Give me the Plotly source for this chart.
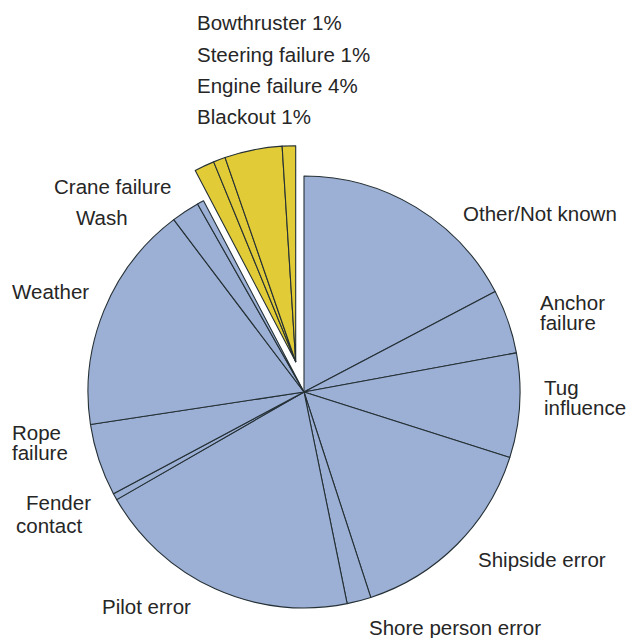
import plotly.graph_objects as go

# Slice data, clockwise from 12 o'clock
categories = ["Other/Not known", "Anchor failure", "Tug influence", "Shipside error",
              "Shore person error", "Pilot error", "Fender contact", "Rope failure",
              "Weather", "Wash", "Crane failure", "Bowthruster", "Steering failure",
              "Engine failure", "Blackout"]
shares = [17.3, 4.8, 7.8, 15.1, 1.8, 19.9, 0.5, 5.4, 17.1, 2.1, 0.5, 1.5, 0.9, 4.3, 1.0]
is_technical = [False] * 11 + [True] * 4

# Label texts (lines) and their placements (paper px, left x / cap-center y)
label_lines = [
    ("Bowthruster 1%", 195, 22.5),
    ("Steering failure 1%", 195, 54),
    ("Engine failure 4%", 195, 85.8),
    ("Blackout 1%", 195, 116),
    ("Crane failure", 52, 186),
    ("Wash", 74, 217.5),
    ("Weather", 10, 291),
    ("Other/Not known", 461, 214),
    ("Anchor", 538, 302.5),
    ("failure", 538, 322.8),
    ("Tug", 542, 387.5),
    ("influence", 542, 407.5),
    ("Shipside error", 476, 559),
    ("Shore person error", 367, 627.5),
    ("Pilot error", 100, 606),
    ("Rope", 10, 432.5),
    ("failure", 10, 452.5),
    ("Fender", 24, 502.5),
    ("contact", 14, 525.8),
]

W, H = 626, 638
BLUE = "#9cb0d6"
YELLOW = "#e1cb37"
OUTLINE = "#253035"
TEXT = "#262626"
CLEAR = "rgba(0,0,0,0)"

# pie geometry (px): main pie center, radius, and offset of the pulled-out technical group
cx, cy, R = 304, 392, 216
dx, dy = -8.3, -30.3


def domain_for(x0, y0):
    return dict(x=[(x0 - R) / W, (x0 + R) / W],
                y=[(H - y0 - R) / H, (H - y0 + R) / H])


base_colors = [CLEAR if t else BLUE for t in is_technical]
base_widths = [0 if t else 1.1 for t in is_technical]
tech_colors = [YELLOW if t else CLEAR for t in is_technical]
tech_widths = [1.1 if t else 0 for t in is_technical]

common = dict(labels=categories, values=shares, sort=False, direction="clockwise",
              rotation=0, textinfo="none", showlegend=False)

fig = go.Figure()
fig.add_trace(go.Pie(
    **common,
    marker=dict(colors=base_colors, line=dict(color=OUTLINE, width=base_widths)),
    hoverinfo="label+percent",
    domain=domain_for(cx, cy),
))
fig.add_trace(go.Pie(
    **common,
    marker=dict(colors=tech_colors, line=dict(color=OUTLINE, width=tech_widths)),
    hoverinfo="skip",
    domain=domain_for(cx + dx, cy + dy),
))

annotations = []
for text, x, y in label_lines:
    annotations.append(dict(
        text=text, x=x / W, y=1 - y / H, xref="paper", yref="paper",
        xanchor="left", yanchor="middle", showarrow=False,
        font=dict(family="Liberation Sans, Arial, sans-serif", size=20.5, color=TEXT),
    ))

fig.update_layout(
    width=W, height=H,
    margin=dict(l=0, r=0, t=0, b=0),
    paper_bgcolor="white",
    plot_bgcolor="white",
    annotations=annotations,
)

fig.write_html(
    "out.html",
    config={"displayModeBar": False},
    post_script="document.body.style.margin='0px';document.body.style.overflow='hidden';",
)
